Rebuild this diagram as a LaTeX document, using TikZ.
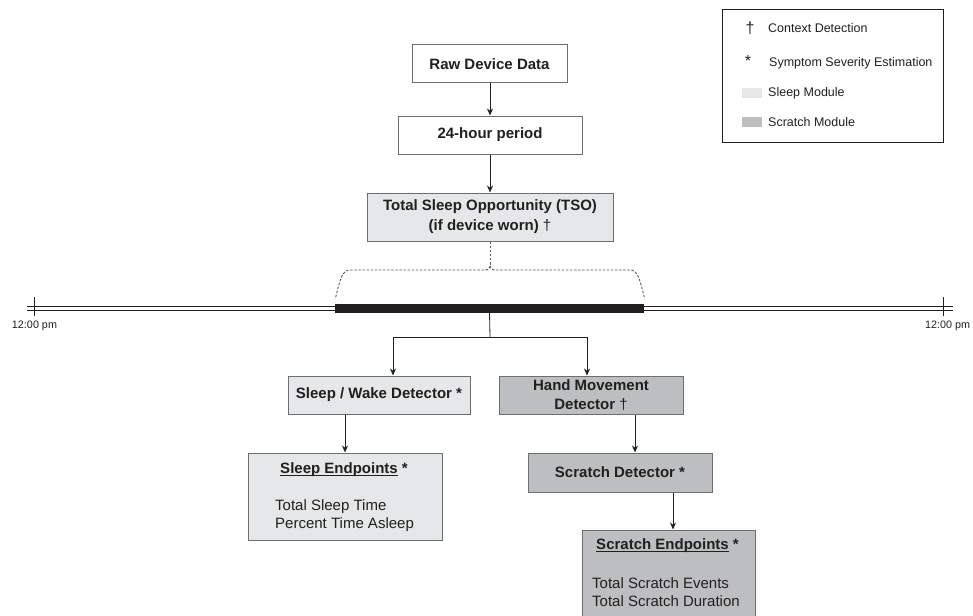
\documentclass[tikz,border=0pt]{standalone}
\usepackage{fontspec}
\setmainfont{Liberation Sans}
\usetikzlibrary{arrows.meta}
\definecolor{txt}{HTML}{231F20}
\definecolor{bord}{HTML}{6D6E71}
\definecolor{lightfill}{HTML}{E6E7E8}
\definecolor{darkfill}{HTML}{BCBEC0}
\newcommand\myul[1]{\setbox0\hbox{#1}\rlap{\rule[-1.6pt]{\wd0}{0.9pt}}\box0\relax}
\newcommand\mydag{{\mdseries †}}
\tikzset{
  box/.style={draw=bord, line width=1pt, inner sep=0, align=center, text=txt,
    font=\fontsize{15}{20}\selectfont\bfseries},
  lightbox/.style={box, fill=lightfill},
  darkbox/.style={box, fill=darkfill},
  arr/.style={draw=txt, line width=0.8pt, -{Stealth[length=7pt,width=6pt]}},
  plain/.style={draw=txt, line width=0.8pt},
  bodytext/.style={text=txt, inner sep=0, align=left, font=\fontsize{15}{18}\selectfont},
  titletext/.style={text=txt, inner sep=0, font=\fontsize{15}{18}\selectfont\bfseries},
  legtext/.style={text=txt, inner sep=0, anchor=west, font=\fontsize{12.5}{15}\selectfont},
  timetext/.style={text=txt, inner sep=0, font=\fontsize{10.8}{13}\selectfont},
  brace/.style={draw=txt!75, line width=0.9pt, dash pattern=on 2.5pt off 1.6pt},
}
\begin{document}
\begin{tikzpicture}[x=1pt,y=-1pt]
\useasboundingbox (0,0) rectangle (973,615);

% Legend
\node[draw=txt, line width=0.7pt, minimum width=221, minimum height=133, inner sep=0] (legend) at (832.5,75.5) {};
\node[text=txt, inner sep=0, font=\fontsize{16}{16}\selectfont] (legdag) at (750,28) {†};
\node[legtext] (legctx) at (768,28) {Context Detection};
\node[text=txt, inner sep=0, font=\fontsize{16}{16}\selectfont] (legstar) at (748,61) {*};
\node[legtext] (legsym) at (769,63) {Symptom Severity Estimation};
\node[fill=lightfill, minimum width=20, minimum height=10, inner sep=0] (legsw1) at (752,93) {};
\node[legtext] (legsleep) at (768,93) {Sleep Module};
\node[fill=darkfill, minimum width=20, minimum height=10, inner sep=0] (legsw2) at (752,122) {};
\node[legtext] (legscr) at (768,122) {Scratch Module};

% Top chain
\node[box, fill=white, minimum width=155, minimum height=38] (raw) at (489.5,64) {Raw Device Data};
\node[box, fill=white, minimum width=184, minimum height=38] (day) at (490,135) {24-hour period};
\node[lightbox, minimum width=246, minimum height=48] (tso) at (490,217) {Total Sleep Opportunity (TSO)\\(if device worn) \mydag};

\draw[arr] (raw.south -| day.north) -- (day.north);
\draw[arr] (day.south) -- (tso.north);

% Timeline
\coordinate (tlL) at (27,308.25);
\coordinate (tlR) at (953,308.25);
\draw[plain, line width=0.7pt] ([yshift=2.25pt]tlL) -- ([yshift=2.25pt]tlR);
\draw[plain, line width=0.7pt] ([yshift=-2.25pt]tlL) -- ([yshift=-2.25pt]tlR);
\draw[plain, line width=0.7pt] (34,297) -- (34,316);
\draw[plain, line width=0.7pt] (943,297) -- (943,316);
\node[fill=txt, minimum width=309, minimum height=8.5, inner sep=0] (bar) at (489.5,308.25) {};
\node[timetext] (tleft) at (34.5,326) {12:00 pm};
\node[timetext] (tright) at (947.5,326) {12:00 pm};

% Brace from TSO to bar
\coordinate (peak) at (490,266);
\draw[brace] (tso.south) -- (peak);
\draw[brace] (peak) .. controls (488.5,270) .. (482,270) -- (350,270)
  .. controls (342,270) and (340,280) .. ([yshift=5pt,xshift=0.5pt]bar.north west);
\draw[brace] (peak) .. controls (491.5,270) .. (498,270) -- (630,270)
  .. controls (638,270) and (640,280) .. ([yshift=5pt,xshift=0.5pt]bar.north east);

% Split
\node[lightbox, minimum width=182, minimum height=38] (sw) at (379,395) {Sleep / Wake Detector *};
\node[darkbox, minimum width=184, minimum height=38, font=\fontsize{15}{19.5}\selectfont\bfseries] (hm) at (591,395) {Hand Movement\\Detector \mydag};
\coordinate (split) at (490,337);
\draw[plain] (bar.south) -- (split);
\draw[arr] (split) -| ([xshift=14pt]sw.north);
\draw[arr] (split) -| ([xshift=-4pt]hm.north);

% Sleep endpoints
\node[lightbox, minimum width=194, minimum height=87] (se) at (345,496.5) {};
\node[titletext] (setitle) at (344,470) {\myul{Sleep Endpoints} *};
\node[bodytext, anchor=west] (sebody) at (275,516) {Total Sleep Time\\Percent Time Asleep};
\draw[arr] (se.north |- sw.south) -- (se.north);

% Scratch detector
\node[darkbox, minimum width=184, minimum height=39] (sd) at (620,472.5) {Scratch Detector *};
\draw[arr] ([xshift=15pt]sd.north |- hm.south) -- ([xshift=15pt]sd.north);

% Scratch endpoints
\node[darkbox, minimum width=173, minimum height=110] (sce) at (668.5,585) {};
\node[titletext] (scetitle) at (667.5,546) {\myul{Scratch Endpoints} *};
\node[bodytext, anchor=west] (scebody) at (592,592) {Total Scratch Events\\Total Scratch Duration};
\draw[arr] ([xshift=4.5pt]sce.north |- sd.south) -- ([xshift=4.5pt]sce.north);
\end{tikzpicture}
\end{document}
